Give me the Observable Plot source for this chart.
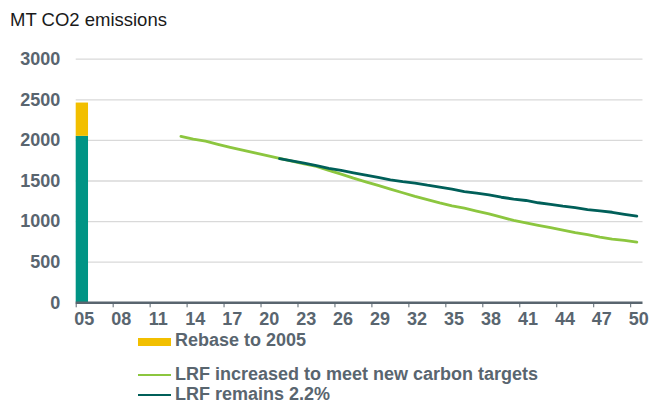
<!DOCTYPE html>
<html><head><meta charset="utf-8">
<script src="https://cdn.jsdelivr.net/npm/d3@7"></script>
<script src="https://cdn.jsdelivr.net/npm/@observablehq/plot@0.6"></script>
<style>
body{margin:0;background:#fff;font-family:"Liberation Sans",Arial,sans-serif;}
#wrap{position:relative;width:649px;height:403px;overflow:hidden;background:#fff}
#title{position:absolute;left:10px;top:9.5px;font-size:18.5px;line-height:20px;color:#1a1a1a;white-space:nowrap}
#chart{position:absolute;left:0;top:40px}
.lt{position:absolute;left:175px;font-size:18px;line-height:17px;font-weight:bold;color:#59656f;white-space:nowrap}
.sw{position:absolute;left:138px;width:33px}
</style>
</head><body>
<div id="wrap">
  <div id="title">MT CO2 emissions</div>
  <div id="chart"></div>
  <div class="sw" style="top:338px;height:8px;background:#f2bf00"></div>
  <div class="lt" style="top:332px">Rebase to 2005</div>
  <div class="sw" style="top:373.5px;height:2.5px;background:#8cc63f"></div>
  <div class="lt" style="top:366px">LRF increased to meet new carbon targets</div>
  <div class="sw" style="top:393.5px;height:2.5px;background:#005f59"></div>
  <div class="lt" style="top:386.3px">LRF remains 2.2%</div>
</div>
<script>
// Data
const barYear = [2005];
const baseValue = [2050];
const rebaseValue = [410];

const increasedYears = d3.range(2013, 2051);
const increasedValues = [2050, 2015, 1990, 1952, 1915, 1880, 1845, 1812, 1780, 1745,
  1712, 1680, 1630, 1585, 1535, 1490, 1445, 1400, 1355, 1310,
  1270, 1230, 1195, 1165, 1130, 1095, 1055, 1015, 985, 955,
  925, 895, 865, 840, 810, 785, 770, 748];

const remainsYears = d3.range(2021, 2051);
const remainsValues = [1775, 1748, 1720, 1690, 1655, 1630, 1600, 1572, 1545, 1515,
  1492, 1475, 1448, 1425, 1400, 1370, 1350, 1328, 1300, 1278,
  1260, 1232, 1212, 1190, 1172, 1148, 1133, 1115, 1090, 1068];

const xTickYears = [2005, 2008, 2011, 2014, 2017, 2020, 2023, 2026, 2029, 2032, 2035, 2038, 2041, 2044, 2047, 2050];
const xTickLabels = ["05", "08", "11", "14", "17", "20", "23", "26", "29", "32", "35", "38", "41", "44", "47", "50"];
const yTicks = [0, 500, 1000, 1500, 2000, 2500, 3000];

const gray = "#59656f";
const bars = barYear.map((y, i) => ({year: y, base: baseValue[i], rebase: rebaseValue[i]}));
const inc = increasedYears.map((y, i) => ({year: y, value: increasedValues[i]}));
const rem = remainsYears.map((y, i) => ({year: y, value: remainsValues[i]}));
const xt = xTickYears.map((y, i) => ({year: y, label: xTickLabels[i]}));

const chart = Plot.plot({
  width: 649,
  height: 295,
  marginLeft: 75.7,
  marginRight: 6.5,
  marginTop: 18.7,
  marginBottom: 32.7,
  style: {fontFamily: "'Liberation Sans', Arial, sans-serif", fontSize: "18px", fontWeight: "bold", color: gray, background: "white"},
  x: {type: "linear", domain: [2004.5, 2050.5], ticks: xTickYears.map(d => d - 0.5), tickFormat: () => "", tickSize: 5, label: null},
  y: {domain: [0, 3000], ticks: yTicks, tickFormat: d => String(d), tickSize: 0, tickPadding: 16, label: null},
  marks: [
    Plot.ruleY(yTicks.filter(d => d > 0), {stroke: "#d9d9d9", strokeWidth: 1.3}),
    Plot.rect(bars, {x1: d => d.year - 0.5, x2: d => d.year + 0.5, y1: 0, y2: d => d.base, fill: "#009485"}),
    Plot.rect(bars, {x1: d => d.year - 0.5, x2: d => d.year + 0.5, y1: d => d.base, y2: d => d.base + d.rebase, fill: "#f2bf00"}),
    Plot.line(inc, {x: "year", y: "value", stroke: "#8cc63f", strokeWidth: 2.8}),
    Plot.line(rem, {x: "year", y: "value", stroke: "#005f59", strokeWidth: 2.8}),
    Plot.ruleY([0], {stroke: gray, strokeWidth: 2.6}),
    Plot.text(xt, {x: "year", text: "label", frameAnchor: "bottom", dy: 22.4, dx: 2, fill: gray, fontWeight: "bold", fontSize: 18})
  ]
});
document.getElementById("chart").appendChild(chart);
</script>
</body></html>
